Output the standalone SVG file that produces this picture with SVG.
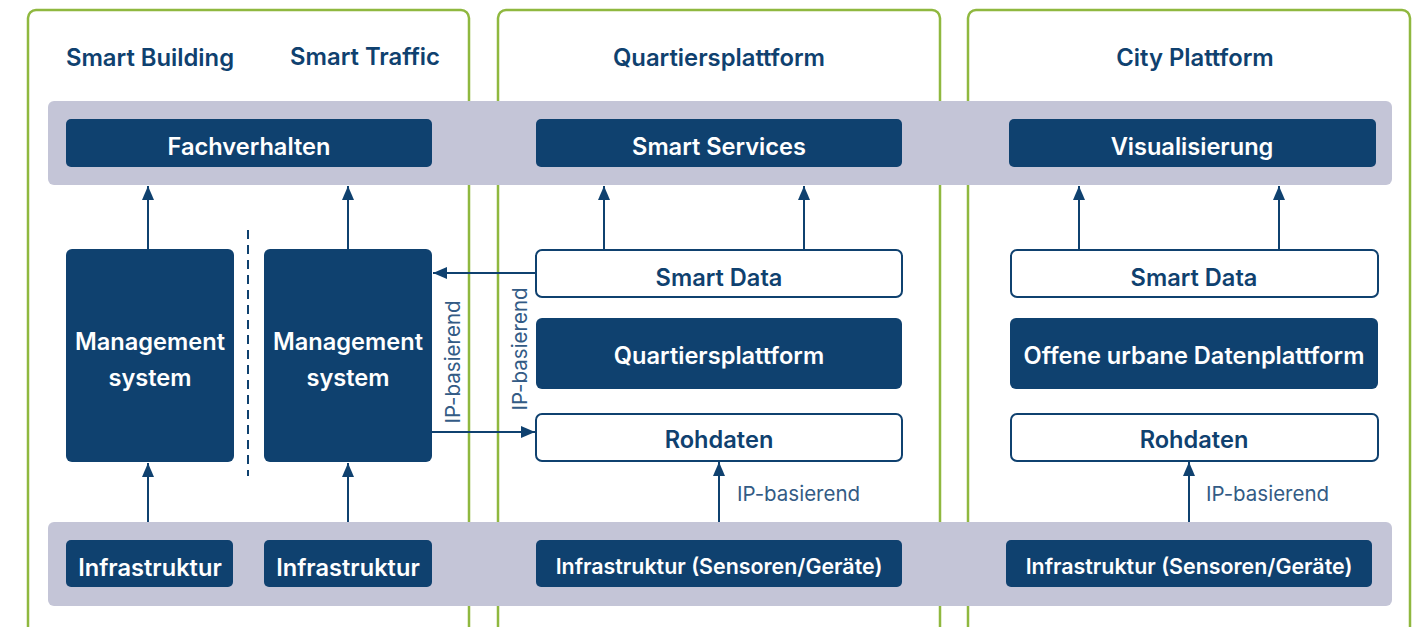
<svg xmlns="http://www.w3.org/2000/svg" width="1417" height="627" viewBox="0 0 1417 627">
<style>
.panel{fill:#fff;stroke:#8fb83f;stroke-width:2.5}
.band{fill:#c4c5d7}
.dk{fill:#0f416f}
.wb{fill:#fff;stroke:#0f416f;stroke-width:2}
.h{font-family:Inter,"Liberation Sans",sans-serif;font-weight:600;font-size:23.8px;fill:#0f416f;text-anchor:middle}
.t{font-family:Inter,"Liberation Sans",sans-serif;font-weight:600;font-size:23.6px;fill:#fff;text-anchor:middle}
.tb{font-family:Inter,"Liberation Sans",sans-serif;font-weight:600;font-size:23.6px;fill:#0f416f;text-anchor:middle}
.ts{font-family:Inter,"Liberation Sans",sans-serif;font-weight:600;font-size:21.4px;fill:#fff;text-anchor:middle}
.ip{font-family:Inter,"Liberation Sans",sans-serif;font-weight:400;font-size:20.5px;fill:#335b85}
.c{stroke:#0f416f;stroke-width:2;fill:none}
</style>
<defs>
<marker id="a" viewBox="0 0 14 14" refX="14" refY="7" markerWidth="14" markerHeight="14" markerUnits="userSpaceOnUse" orient="auto">
<path d="M0,1 L14,7 L0,13 Z" fill="#0f416f"/>
</marker>
</defs>
<rect width="1417" height="627" fill="#fff"/>
<g id="panels">
<rect class="panel" x="28" y="10" width="441" height="630" rx="8"/>
<rect class="panel" x="498" y="10" width="442" height="630" rx="8"/>
<rect class="panel" x="968" y="10" width="442" height="630" rx="8"/>
<text class="h" x="150" y="66">Smart Building</text>
<text class="h" x="365" y="65">Smart Traffic</text>
<text class="h" x="719" y="66">Quartiersplattform</text>
<text class="h" x="1195" y="66">City Plattform</text>
</g>
<g id="bands">
<rect class="band" x="48" y="101" width="1344" height="84" rx="6"/>
<rect class="band" x="48" y="522" width="1344" height="84" rx="6"/>
</g>
<g id="n-fachverhalten"><rect class="dk" x="66" y="119" width="366" height="48" rx="5"/><text class="t" x="249" y="155">Fachverhalten</text></g>
<g id="n-smartservices"><rect class="dk" x="536" y="119" width="366" height="48" rx="5"/><text class="t" x="719" y="155">Smart Services</text></g>
<g id="n-visualisierung"><rect class="dk" x="1009" y="119" width="367" height="48" rx="5"/><text class="t" x="1192" y="155">Visualisierung</text></g>
<g id="n-ms1"><rect class="dk" x="66" y="249" width="168" height="213" rx="6"/><text class="t" x="150" y="350">Management</text><text class="t" x="150" y="386">system</text></g>
<g id="n-ms2"><rect class="dk" x="264" y="249" width="168" height="213" rx="6"/><text class="t" x="348" y="350">Management</text><text class="t" x="348" y="386">system</text></g>
<g id="n-sd1"><rect class="wb" x="536" y="250" width="366" height="47" rx="6"/><text class="tb" x="719" y="286">Smart Data</text></g>
<g id="n-qp"><rect class="dk" x="536" y="318" width="366" height="71" rx="6"/><text class="t" x="719" y="364">Quartiersplattform</text></g>
<g id="n-rd1"><rect class="wb" x="536" y="414" width="366" height="47" rx="6"/><text class="tb" x="719" y="448">Rohdaten</text></g>
<g id="n-sd2"><rect class="wb" x="1011" y="250" width="367" height="47" rx="6"/><text class="tb" x="1194" y="286">Smart Data</text></g>
<g id="n-oudp"><rect class="dk" x="1010" y="318" width="368" height="71" rx="6"/><text class="t" x="1194" y="364">Offene urbane Datenplattform</text></g>
<g id="n-rd2"><rect class="wb" x="1011" y="414" width="367" height="47" rx="6"/><text class="tb" x="1194" y="448">Rohdaten</text></g>
<g id="n-inf1"><rect class="dk" x="66" y="540" width="167" height="47" rx="5"/><text class="t" x="150" y="576">Infrastruktur</text></g>
<g id="n-inf2"><rect class="dk" x="264" y="540" width="168" height="47" rx="5"/><text class="t" x="348" y="576">Infrastruktur</text></g>
<g id="n-inf3"><rect class="dk" x="536" y="540" width="366" height="47" rx="5"/><text class="ts" x="719" y="574">Infrastruktur (Sensoren/Geräte)</text></g>
<g id="n-inf4"><rect class="dk" x="1006" y="540" width="366" height="47" rx="5"/><text class="ts" x="1189" y="574">Infrastruktur (Sensoren/Geräte)</text></g>
<g id="connectors">
<line x1="248" y1="230" x2="248" y2="476" stroke="#0f416f" stroke-width="2" stroke-dasharray="9,6"/>
<line class="c" x1="148" y1="249" x2="148" y2="186" marker-end="url(#a)"/>
<line class="c" x1="348" y1="249" x2="348" y2="186" marker-end="url(#a)"/>
<line class="c" x1="148" y1="522" x2="148" y2="463" marker-end="url(#a)"/>
<line class="c" x1="348" y1="522" x2="348" y2="463" marker-end="url(#a)"/>
<line class="c" x1="604" y1="250" x2="604" y2="186" marker-end="url(#a)"/>
<line class="c" x1="804" y1="250" x2="804" y2="186" marker-end="url(#a)"/>
<line class="c" x1="1079" y1="250" x2="1079" y2="186" marker-end="url(#a)"/>
<line class="c" x1="1279" y1="250" x2="1279" y2="186" marker-end="url(#a)"/>
<line class="c" x1="719" y1="522" x2="719" y2="462" marker-end="url(#a)"/>
<line class="c" x1="1189" y1="522" x2="1189" y2="462" marker-end="url(#a)"/>
<line class="c" x1="536" y1="273" x2="433" y2="273" marker-end="url(#a)"/>
<line class="c" x1="432" y1="432" x2="535" y2="432" marker-end="url(#a)"/>
<text class="ip" x="737" y="501">IP-basierend</text>
<text class="ip" x="1206" y="501">IP-basierend</text>
<text class="ip" text-anchor="middle" transform="translate(460,362) rotate(-90)">IP-basierend</text>
<text class="ip" text-anchor="middle" transform="translate(527,349) rotate(-90)">IP-basierend</text>
</g>
</svg>
